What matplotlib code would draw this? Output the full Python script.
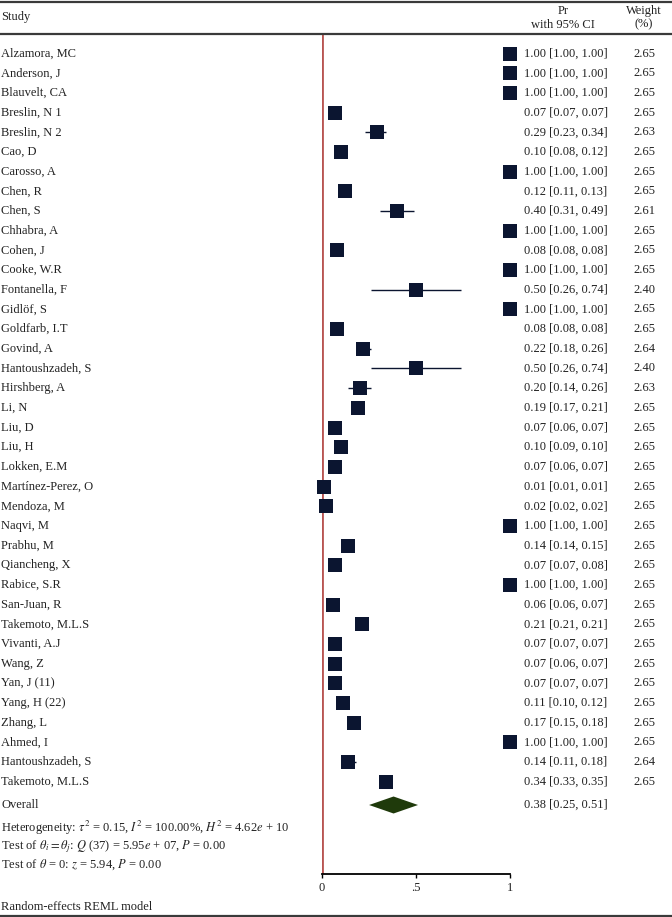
import matplotlib
matplotlib.use("Agg")
import matplotlib.pyplot as plt
import matplotlib.transforms as mtransforms
from matplotlib.lines import Line2D
import numpy as np

plt.rcParams['font.family'] = ['Liberation Serif', 'DejaVu Serif']
plt.rcParams['mathtext.fontset'] = 'stix'

studies = ["Alzamora, MC", "Anderson, J", "Blauvelt, CA", "Breslin, N 1", "Breslin, N 2",
           "Cao, D", "Carosso, A", "Chen, R", "Chen, S", "Chhabra, A", "Cohen, J",
           "Cooke, W.R", "Fontanella, F", "Gidlöf, S", "Goldfarb, I.T", "Govind, A",
           "Hantoushzadeh, S", "Hirshberg, A", "Li, N", "Liu, D", "Liu, H", "Lokken, E.M",
           "Martínez-Perez, O", "Mendoza, M", "Naqvi, M", "Prabhu, M", "Qiancheng, X",
           "Rabice, S.R", "San-Juan, R", "Takemoto, M.L.S", "Vivanti, A.J", "Wang, Z",
           "Yan, J (11)", "Yang, H (22)", "Zhang, L", "Ahmed, I", "Hantoushzadeh, S",
           "Takemoto, M.L.S"]
est = [1.00, 1.00, 1.00, 0.07, 0.29, 0.10, 1.00, 0.12, 0.40, 1.00, 0.08, 1.00, 0.50, 1.00,
       0.08, 0.22, 0.50, 0.20, 0.19, 0.07, 0.10, 0.07, 0.01, 0.02, 1.00, 0.14, 0.07, 1.00,
       0.06, 0.21, 0.07, 0.07, 0.07, 0.11, 0.17, 1.00, 0.14, 0.34]
lo = [1.00, 1.00, 1.00, 0.07, 0.23, 0.08, 1.00, 0.11, 0.31, 1.00, 0.08, 1.00, 0.26, 1.00,
      0.08, 0.18, 0.26, 0.14, 0.17, 0.06, 0.09, 0.06, 0.01, 0.02, 1.00, 0.14, 0.07, 1.00,
      0.06, 0.21, 0.07, 0.06, 0.07, 0.10, 0.15, 1.00, 0.11, 0.33]
hi = [1.00, 1.00, 1.00, 0.07, 0.34, 0.12, 1.00, 0.13, 0.49, 1.00, 0.08, 1.00, 0.74, 1.00,
      0.08, 0.26, 0.74, 0.26, 0.21, 0.07, 0.10, 0.07, 0.01, 0.02, 1.00, 0.15, 0.08, 1.00,
      0.07, 0.21, 0.07, 0.07, 0.07, 0.12, 0.18, 1.00, 0.18, 0.35]
weights = [2.65, 2.65, 2.65, 2.65, 2.63, 2.65, 2.65, 2.65, 2.61, 2.65, 2.65, 2.65, 2.40, 2.65,
           2.65, 2.64, 2.40, 2.63, 2.65, 2.65, 2.65, 2.65, 2.65, 2.65, 2.65, 2.65, 2.65, 2.65,
           2.65, 2.65, 2.65, 2.65, 2.65, 2.65, 2.65, 2.65, 2.64, 2.65]
overall_est, overall_lo, overall_hi = 0.38, 0.25, 0.51
xticks = [0, 0.5, 1]
xticklabels = ["0", ".5", "1"]

W, H = 672, 917
fig = plt.figure(figsize=(W / 100, H / 100), dpi=100)

# geometry (pixels)
x0_px, x1_px = 322, 510.3
y_top_px, y_axis_px = 34.3, 874
row0_px, row_step = 53.6, 19.68

ax = fig.add_axes([x0_px / W, 1 - y_axis_px / H, (x1_px - x0_px) / W, (y_axis_px - y_top_px) / H])
ax.set_xlim(0, 1)
ax.set_ylim((y_axis_px - row0_px) / row_step, (y_top_px - row0_px) / row_step)
for s in ["top", "right", "left"]:
    ax.spines[s].set_visible(False)
ax.spines["bottom"].set_linewidth(1.3)
ax.set_yticks([])
ax.set_xticks(xticks)
ax.set_xticklabels(xticklabels, fontsize=9, color="#222222")
ax.tick_params(axis="x", direction="out", length=3, width=1, pad=2.5)
ax.patch.set_alpha(0)

def ypx(px):
    return (px - row0_px) / row_step

txtc = "#222222"
navy = "#0b1530"
ax.axvline(0, color="#b85552", lw=2.0, zorder=1)

n = len(studies)
ys = np.arange(n)
ax.hlines(ys, lo, hi, color=navy, lw=1.0, zorder=2, clip_on=False)
for i in range(n):
    ms = 10.1 * np.sqrt(weights[i] / 2.65)
    ax.plot(est[i], ys[i], marker="s", ms=ms, color=navy, mec=navy, mew=0,
            ls="none", zorder=3, clip_on=False)

y_ov = ypx(805)
h = 8.5 / row_step
ax.fill([overall_lo, overall_est, overall_hi, overall_est],
        [y_ov, y_ov - h, y_ov, y_ov + h], color="#1f3a0b", lw=0, zorder=3)

tr = mtransforms.blended_transform_factory(fig.transFigure, ax.transData)
fs = 9
for i in range(n):
    ax.text(1 / W, ys[i], studies[i], transform=tr, ha="left", va="center", fontsize=fs, color=txtc)
    ax.text(524 / W, ys[i], f"{est[i]:.2f} [{lo[i]:.2f}, {hi[i]:.2f}]", transform=tr,
            ha="left", va="center", fontsize=fs, color=txtc)
    ax.text(644 / W, ys[i], f"{weights[i]:.2f}", transform=tr, ha="center", va="center",
            fontsize=fs, color=txtc)
ax.text(1 / W, y_ov, "Overall", transform=tr, ha="left", va="center", fontsize=fs, color=txtc)
ax.text(524 / W, y_ov, f"{overall_est:.2f} [{overall_lo:.2f}, {overall_hi:.2f}]", transform=tr,
        ha="left", va="center", fontsize=fs, color=txtc)

stats = [
    (828, r"Heterogeneity: $\tau^2$ = 0.15, $I^2$ = 100.00%, $H^2$ = 4.62$e$ + 10"),
    (847, r"Test of $\theta_i = \theta_j$: $Q$ (37) = 5.95$e$ + 07, $P$ = 0.00"),
    (865, r"Test of $\theta$ = 0: $z$ = 5.94, $P$ = 0.00"),
]
for py, s in stats:
    ax.text(1 / W, ypx(py), s, transform=tr, ha="left", va="center", fontsize=fs, color=txtc)

# header
def fy(px):
    return 1 - px / H

fig.text(1 / W, fy(16.7), "Study", ha="left", va="center", fontsize=fs, color=txtc)
fig.text(563 / W, fy(10.7), "Pr", ha="center", va="center", fontsize=fs, color=txtc)
fig.text(563 / W, fy(24.5), "with 95% CI", ha="center", va="center", fontsize=fs, color=txtc)
fig.text(644 / W, fy(10.7), "Weight", ha="center", va="center", fontsize=fs, color=txtc)
fig.text(644 / W, fy(24.5), "(%)", ha="center", va="center", fontsize=fs, color=txtc)
fig.text(1 / W, fy(907), "Random-effects REML model", ha="left", va="center", fontsize=fs, color=txtc)

for py in (1.7, 34.3, 915.5):
    fig.add_artist(Line2D([0, 1], [fy(py), fy(py)], transform=fig.transFigure,
                          color="#3a3a3a", lw=1.6))

fig.savefig("out.png", dpi=100)
